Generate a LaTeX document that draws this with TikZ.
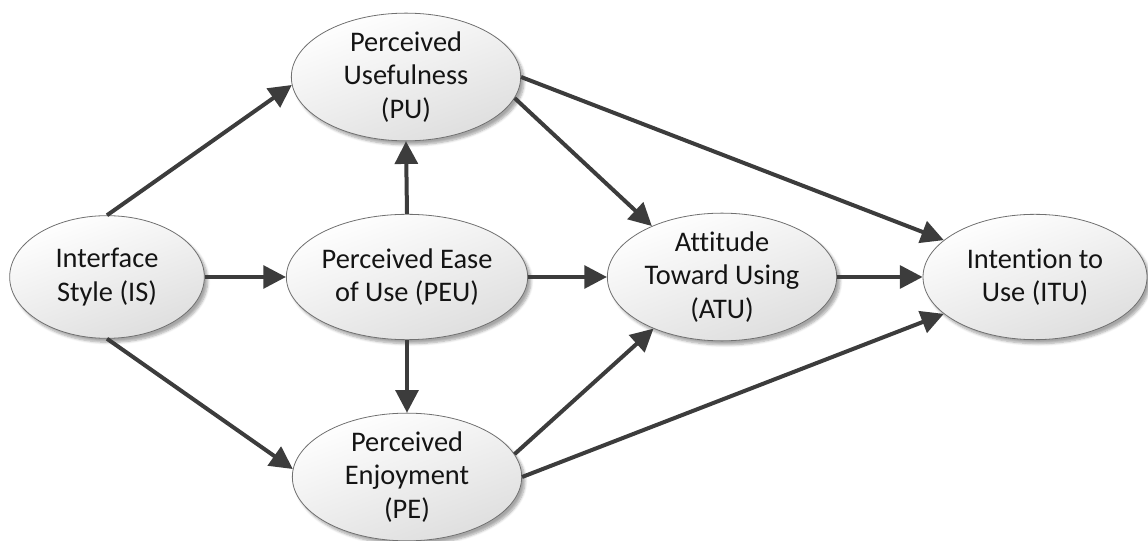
\documentclass[tikz,border=0pt]{standalone}
\usepackage{fontspec}
\setmainfont[Ligatures={NoCommon}]{Carlito}
\usetikzlibrary{shapes.geometric,arrows.meta,shadows.blur}
\definecolor{linec}{HTML}{3C3C3C}
\definecolor{borderc}{HTML}{707070}
\tikzset{
  construct/.style={ellipse, draw=borderc, line width=0.6pt,
    top color=white, bottom color=black!13, shading angle=20,
    minimum width=172pt, minimum height=94pt, inner sep=0pt,
    align=center, font=\fontsize{21.3pt}{25pt}\selectfont, text=black!92,
    blur shadow={shadow xshift=2.5pt, shadow yshift=-3pt, shadow blur steps=6, shadow opacity=35}},
  link/.style={draw=linec, line width=3pt, -{Triangle[length=17pt,width=17pt]}}
}
\begin{document}
\begin{tikzpicture}[x=0.75pt,y=-0.75pt]
\useasboundingbox (0,0) rectangle (1148,541);
\node[construct, minimum width=146pt, minimum height=92pt] (IS) at (107,277) {Interface\\Style (IS)};
\node[construct] (PU) at (406,77) {Perceived\\Usefulness\\(PU)};
\node[construct] (PEU) at (407,277) {Perceived Ease\\of Use (PEU)};
\node[construct] (PE) at (407,477) {Perceived\\Enjoyment\\(PE)};
\node[construct] (ATU) at (722,277) {Attitude\\Toward Using\\(ATU)};
\node[construct, minimum width=168pt] (ITU) at (1035,277) {Intention to\\Use (ITU)};
\draw[link] (IS.north) -- (PU.184);
\draw[link] (IS.east) -- (PEU.west);
\draw[link] (IS.south) -- (PE.176);
\draw[link] (PEU.north) -- (PU.south);
\draw[link] (PEU.south) -- (PE.north);
\draw[link] (PU.-11) -- (ATU.144);
\draw[link] (PU.east) -- (ITU.158);
\draw[link] (PEU.east) -- (ATU.west);
\draw[link] (PE.12) -- (ATU.-143);
\draw[link] (PE.east) -- (ITU.-158);
\draw[link] (ATU.east) -- (ITU.west);
\end{tikzpicture}
\end{document}
